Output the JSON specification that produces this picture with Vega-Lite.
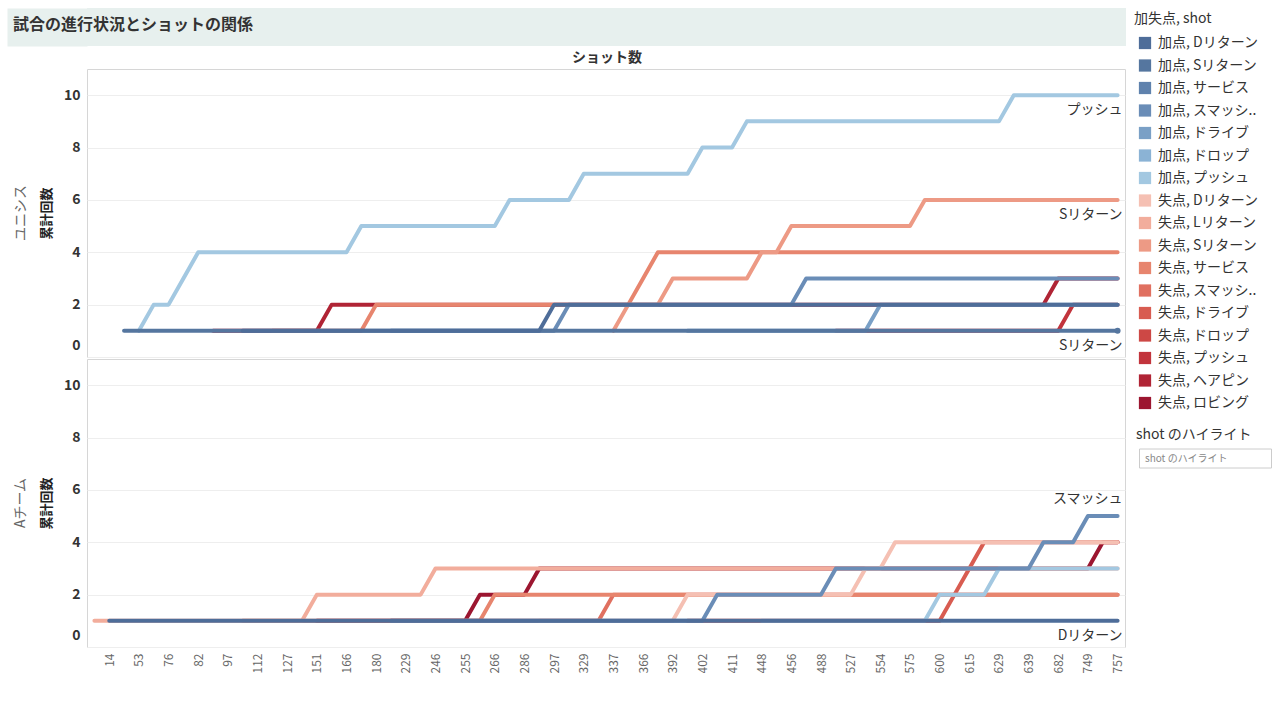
{
  "$schema": "https://vega.github.io/schema/vega-lite/v6.json",
  "padding": {"left": 13, "top": 8, "right": 0, "bottom": 0},
  "background": "white",
  "config": {
    "font": "Noto Sans CJK JP",
    "view": {"stroke": "#d6d6d6"}
  },
  "datasets": {
    "lines": [
      {"team":"ユニシス","key":"失点, ヘアピン","shot":"ヘアピン","n":90,"v":1},
      {"team":"ユニシス","key":"失点, ヘアピン","shot":"ヘアピン","n":151,"v":1},
      {"team":"ユニシス","key":"失点, ヘアピン","shot":"ヘアピン","n":159,"v":2},
      {"team":"ユニシス","key":"失点, ヘアピン","shot":"ヘアピン","n":661,"v":2},
      {"team":"ユニシス","key":"失点, ヘアピン","shot":"ヘアピン","n":682,"v":3},
      {"team":"ユニシス","key":"失点, ヘアピン","shot":"ヘアピン","n":757,"v":3},
      {"team":"ユニシス","key":"失点, プッシュ","shot":"プッシュ","n":508,"v":1},
      {"team":"ユニシス","key":"失点, プッシュ","shot":"プッシュ","n":682,"v":1},
      {"team":"ユニシス","key":"失点, プッシュ","shot":"プッシュ","n":716,"v":2},
      {"team":"ユニシス","key":"失点, プッシュ","shot":"プッシュ","n":757,"v":2},
      {"team":"ユニシス","key":"失点, サービス","shot":"サービス","n":120,"v":1},
      {"team":"ユニシス","key":"失点, サービス","shot":"サービス","n":173,"v":1},
      {"team":"ユニシス","key":"失点, サービス","shot":"サービス","n":180,"v":2},
      {"team":"ユニシス","key":"失点, サービス","shot":"サービス","n":352,"v":2},
      {"team":"ユニシス","key":"失点, サービス","shot":"サービス","n":366,"v":3},
      {"team":"ユニシス","key":"失点, サービス","shot":"サービス","n":379,"v":4},
      {"team":"ユニシス","key":"失点, サービス","shot":"サービス","n":757,"v":4},
      {"team":"ユニシス","key":"失点, Sリターン","shot":"Sリターン","n":337,"v":1},
      {"team":"ユニシス","key":"失点, Sリターン","shot":"Sリターン","n":352,"v":2},
      {"team":"ユニシス","key":"失点, Sリターン","shot":"Sリターン","n":379,"v":2},
      {"team":"ユニシス","key":"失点, Sリターン","shot":"Sリターン","n":392,"v":3},
      {"team":"ユニシス","key":"失点, Sリターン","shot":"Sリターン","n":430,"v":3},
      {"team":"ユニシス","key":"失点, Sリターン","shot":"Sリターン","n":448,"v":4},
      {"team":"ユニシス","key":"失点, Sリターン","shot":"Sリターン","n":452,"v":4},
      {"team":"ユニシス","key":"失点, Sリターン","shot":"Sリターン","n":456,"v":5},
      {"team":"ユニシス","key":"失点, Sリターン","shot":"Sリターン","n":575,"v":5},
      {"team":"ユニシス","key":"失点, Sリターン","shot":"Sリターン","n":588,"v":6},
      {"team":"ユニシス","key":"失点, Sリターン","shot":"Sリターン","n":757,"v":6},
      {"team":"ユニシス","key":"加点, プッシュ","shot":"プッシュ","n":53,"v":1},
      {"team":"ユニシス","key":"加点, プッシュ","shot":"プッシュ","n":65,"v":2},
      {"team":"ユニシス","key":"加点, プッシュ","shot":"プッシュ","n":76,"v":2},
      {"team":"ユニシス","key":"加点, プッシュ","shot":"プッシュ","n":79,"v":3},
      {"team":"ユニシス","key":"加点, プッシュ","shot":"プッシュ","n":82,"v":4},
      {"team":"ユニシス","key":"加点, プッシュ","shot":"プッシュ","n":166,"v":4},
      {"team":"ユニシス","key":"加点, プッシュ","shot":"プッシュ","n":173,"v":5},
      {"team":"ユニシス","key":"加点, プッシュ","shot":"プッシュ","n":266,"v":5},
      {"team":"ユニシス","key":"加点, プッシュ","shot":"プッシュ","n":276,"v":6},
      {"team":"ユニシス","key":"加点, プッシュ","shot":"プッシュ","n":313,"v":6},
      {"team":"ユニシス","key":"加点, プッシュ","shot":"プッシュ","n":329,"v":7},
      {"team":"ユニシス","key":"加点, プッシュ","shot":"プッシュ","n":397,"v":7},
      {"team":"ユニシス","key":"加点, プッシュ","shot":"プッシュ","n":402,"v":8},
      {"team":"ユニシス","key":"加点, プッシュ","shot":"プッシュ","n":411,"v":8},
      {"team":"ユニシス","key":"加点, プッシュ","shot":"プッシュ","n":430,"v":9},
      {"team":"ユニシス","key":"加点, プッシュ","shot":"プッシュ","n":629,"v":9},
      {"team":"ユニシス","key":"加点, プッシュ","shot":"プッシュ","n":634,"v":10},
      {"team":"ユニシス","key":"加点, プッシュ","shot":"プッシュ","n":757,"v":10},
      {"team":"ユニシス","key":"加点, ドライブ","shot":"ドライブ","n":397,"v":1},
      {"team":"ユニシス","key":"加点, ドライブ","shot":"ドライブ","n":541,"v":1},
      {"team":"ユニシス","key":"加点, ドライブ","shot":"ドライブ","n":554,"v":2},
      {"team":"ユニシス","key":"加点, ドライブ","shot":"ドライブ","n":757,"v":2},
      {"team":"ユニシス","key":"加点, スマッシュ","shot":"スマッシュ","n":205,"v":1},
      {"team":"ユニシス","key":"加点, スマッシュ","shot":"スマッシュ","n":297,"v":1},
      {"team":"ユニシス","key":"加点, スマッシュ","shot":"スマッシュ","n":313,"v":2},
      {"team":"ユニシス","key":"加点, スマッシュ","shot":"スマッシュ","n":456,"v":2},
      {"team":"ユニシス","key":"加点, スマッシュ","shot":"スマッシュ","n":472,"v":3},
      {"team":"ユニシス","key":"加点, スマッシュ","shot":"スマッシュ","n":757,"v":3},
      {"team":"ユニシス","key":"加点, Sリターン","shot":"Sリターン","n":35,"v":1},
      {"team":"ユニシス","key":"加点, Sリターン","shot":"Sリターン","n":757,"v":1},
      {"team":"ユニシス","key":"加点, Dリターン","shot":"Dリターン","n":105,"v":1},
      {"team":"ユニシス","key":"加点, Dリターン","shot":"Dリターン","n":292,"v":1},
      {"team":"ユニシス","key":"加点, Dリターン","shot":"Dリターン","n":297,"v":2},
      {"team":"ユニシス","key":"加点, Dリターン","shot":"Dリターン","n":757,"v":2},
      {"team":"Aチーム","key":"失点, ロビング","shot":"ロビング","n":151,"v":1},
      {"team":"Aチーム","key":"失点, ロビング","shot":"ロビング","n":255,"v":1},
      {"team":"Aチーム","key":"失点, ロビング","shot":"ロビング","n":261,"v":2},
      {"team":"Aチーム","key":"失点, ロビング","shot":"ロビング","n":286,"v":2},
      {"team":"Aチーム","key":"失点, ロビング","shot":"ロビング","n":292,"v":3},
      {"team":"Aチーム","key":"失点, ロビング","shot":"ロビング","n":749,"v":3},
      {"team":"Aチーム","key":"失点, ロビング","shot":"ロビング","n":753,"v":4},
      {"team":"Aチーム","key":"失点, ロビング","shot":"ロビング","n":757,"v":4},
      {"team":"Aチーム","key":"失点, ドライブ","shot":"ドライブ","n":397,"v":1},
      {"team":"Aチーム","key":"失点, ドライブ","shot":"ドライブ","n":600,"v":1},
      {"team":"Aチーム","key":"失点, ドライブ","shot":"ドライブ","n":608,"v":2},
      {"team":"Aチーム","key":"失点, ドライブ","shot":"ドライブ","n":615,"v":3},
      {"team":"Aチーム","key":"失点, ドライブ","shot":"ドライブ","n":622,"v":4},
      {"team":"Aチーム","key":"失点, ドライブ","shot":"ドライブ","n":757,"v":4},
      {"team":"Aチーム","key":"失点, スマッシュ","shot":"スマッシュ","n":205,"v":1},
      {"team":"Aチーム","key":"失点, スマッシュ","shot":"スマッシュ","n":333,"v":1},
      {"team":"Aチーム","key":"失点, スマッシュ","shot":"スマッシュ","n":337,"v":2},
      {"team":"Aチーム","key":"失点, スマッシュ","shot":"スマッシュ","n":757,"v":2},
      {"team":"Aチーム","key":"失点, サービス","shot":"サービス","n":105,"v":1},
      {"team":"Aチーム","key":"失点, サービス","shot":"サービス","n":261,"v":1},
      {"team":"Aチーム","key":"失点, サービス","shot":"サービス","n":266,"v":2},
      {"team":"Aチーム","key":"失点, サービス","shot":"サービス","n":757,"v":2},
      {"team":"Aチーム","key":"失点, Lリターン","shot":"Lリターン","n":1,"v":1},
      {"team":"Aチーム","key":"失点, Lリターン","shot":"Lリターン","n":140,"v":1},
      {"team":"Aチーム","key":"失点, Lリターン","shot":"Lリターン","n":151,"v":2},
      {"team":"Aチーム","key":"失点, Lリターン","shot":"Lリターン","n":238,"v":2},
      {"team":"Aチーム","key":"失点, Lリターン","shot":"Lリターン","n":246,"v":3},
      {"team":"Aチーム","key":"失点, Lリターン","shot":"Lリターン","n":757,"v":3},
      {"team":"Aチーム","key":"失点, Dリターン","shot":"Dリターン","n":292,"v":1},
      {"team":"Aチーム","key":"失点, Dリターン","shot":"Dリターン","n":392,"v":1},
      {"team":"Aチーム","key":"失点, Dリターン","shot":"Dリターン","n":397,"v":2},
      {"team":"Aチーム","key":"失点, Dリターン","shot":"Dリターン","n":527,"v":2},
      {"team":"Aチーム","key":"失点, Dリターン","shot":"Dリターン","n":541,"v":3},
      {"team":"Aチーム","key":"失点, Dリターン","shot":"Dリターン","n":554,"v":3},
      {"team":"Aチーム","key":"失点, Dリターン","shot":"Dリターン","n":565,"v":4},
      {"team":"Aチーム","key":"失点, Dリターン","shot":"Dリターン","n":757,"v":4},
      {"team":"Aチーム","key":"加点, プッシュ","shot":"プッシュ","n":448,"v":1},
      {"team":"Aチーム","key":"加点, プッシュ","shot":"プッシュ","n":588,"v":1},
      {"team":"Aチーム","key":"加点, プッシュ","shot":"プッシュ","n":600,"v":2},
      {"team":"Aチーム","key":"加点, プッシュ","shot":"プッシュ","n":622,"v":2},
      {"team":"Aチーム","key":"加点, プッシュ","shot":"プッシュ","n":629,"v":3},
      {"team":"Aチーム","key":"加点, プッシュ","shot":"プッシュ","n":757,"v":3},
      {"team":"Aチーム","key":"加点, スマッシュ","shot":"スマッシュ","n":205,"v":1},
      {"team":"Aチーム","key":"加点, スマッシュ","shot":"スマッシュ","n":402,"v":1},
      {"team":"Aチーム","key":"加点, スマッシュ","shot":"スマッシュ","n":407,"v":2},
      {"team":"Aチーム","key":"加点, スマッシュ","shot":"スマッシュ","n":488,"v":2},
      {"team":"Aチーム","key":"加点, スマッシュ","shot":"スマッシュ","n":508,"v":3},
      {"team":"Aチーム","key":"加点, スマッシュ","shot":"スマッシュ","n":639,"v":3},
      {"team":"Aチーム","key":"加点, スマッシュ","shot":"スマッシュ","n":661,"v":4},
      {"team":"Aチーム","key":"加点, スマッシュ","shot":"スマッシュ","n":716,"v":4},
      {"team":"Aチーム","key":"加点, スマッシュ","shot":"スマッシュ","n":749,"v":5},
      {"team":"Aチーム","key":"加点, スマッシュ","shot":"スマッシュ","n":757,"v":5},
      {"team":"Aチーム","key":"加点, Dリターン","shot":"Dリターン","n":14,"v":1},
      {"team":"Aチーム","key":"加点, Dリターン","shot":"Dリターン","n":757,"v":1}
    ]
  },
  "spacing": 4,
  "vconcat": [
    {
      "width": 1039,
      "height": 38,
      "view": {"fill": "#e7f0ee", "stroke": null},
      "title": {"text": "試合の進行状況とショットの関係", "anchor": "start", "frame": "group", "orient": "top", "offset": -24, "dx": -74, "dy": 17, "fontSize": 16, "fontWeight": "bold", "color": "#333333", "baseline": "bottom"},
      "data": {"values": [{"t": ""}]},
      "mark": {"type": "text"},
      "encoding": {
        "text": {"field": "t", "type": "nominal"},
        "y": {"field": "t", "type": "nominal", "axis": {"orient": "left", "offset": 40, "domainWidth": 80, "domainColor": "#e7f0ee", "domainCap": "butt", "labels": false, "ticks": false, "title": null, "grid": false}}
      }
    },
    {
      "data": {"name": "lines"},
      "title": {"text": "ショット数", "fontSize": 14, "fontWeight": "bold", "color": "#333333", "anchor": "middle", "frame": "bounds", "dx": 37, "offset": 4},
      "spacing": 0,
      "facet": {
        "row": {
          "field": "team", "type": "nominal", "sort": ["ユニシス", "Aチーム"], "title": null,
          "header": {"labelAngle": -90, "labelOrient": "left", "labelColor": "#666666", "labelFontSize": 14, "labelPadding": 5}
        }
      },
      "spec": {
        "width": 1038,
        "height": 288,
        "encoding": {
          "x": {
            "field": "n", "type": "ordinal",
            "scale": {"type": "point", "padding": 0.5, "domain": [1,14,35,53,65,76,79,82,90,97,105,112,120,127,140,151,159,166,173,180,205,229,238,246,251,255,261,266,276,286,292,297,313,329,333,337,352,366,379,392,397,402,407,411,430,448,452,456,472,488,508,527,541,554,565,575,588,600,608,615,622,629,634,639,661,682,716,749,753,757]},
            "axis": {"values": [14,53,76,82,97,112,127,151,166,180,229,246,255,266,286,297,329,337,366,392,402,411,448,456,488,527,554,575,600,615,629,639,682,749,757], "labelAngle": -90, "title": null, "grid": false, "ticks": false, "domain": false, "labelColor": "#666666", "labelFontSize": 12, "labelPadding": 5}
          },
          "y": {
            "field": "v", "type": "quantitative",
            "scale": {"domain": [0, 11], "nice": false},
            "axis": {"values": [0,2,4,6,8,10], "title": "累計回数", "titleFontSize": 13, "titleFontWeight": "bold", "titleColor": "#222222", "titlePadding": 10, "labelFontSize": 14, "labelFontWeight": "bold", "labelColor": "#333333", "labelPadding": 6, "ticks": false, "domain": false, "gridColor": "#eeeeee", "labelFlush": true, "labelFlushOffset": -5}
          }
        },
        "layer": [
          {
            "mark": {"type": "line", "strokeWidth": 4, "strokeJoin": "round", "strokeCap": "round"},
            "encoding": {
              "color": {
                "field": "key", "type": "nominal",
                "scale": {
                  "domain": ["加点, Dリターン","加点, Sリターン","加点, サービス","加点, スマッシュ","加点, ドライブ","加点, ドロップ","加点, プッシュ","失点, Dリターン","失点, Lリターン","失点, Sリターン","失点, サービス","失点, スマッシュ","失点, ドライブ","失点, ドロップ","失点, プッシュ","失点, ヘアピン","失点, ロビング"],
                  "range": ["#4e6d99","#55769f","#5f82ad","#6a8db7","#7aa0c6","#8bb3d5","#a3c8e1","#f5c0b3","#f2ad9c","#ed9a85","#e7856e","#e07060","#d85c51","#cd4845","#c2343c","#b02435","#9c1630"]
                },
                "legend": {
                  "title": "加失点, shot", "orient": "right", "offset": 4, "padding": 4,
                  "titleFontSize": 14, "titleFontWeight": "normal", "titleColor": "#333333", "titlePadding": 10,
                  "labelFontSize": 14, "labelColor": "#333333", "labelOffset": 6,
                  "symbolType": "square", "symbolSize": 150, "symbolStrokeWidth": 0, "symbolOffset": 4, "rowPadding": 8.5,
                  "labelExpr": "replace(datum.label, 'スマッシュ', 'スマッシ..')",
                  "encode": {"symbols": {"update": {"fill": {"scale": "color", "field": "value"}, "fillOpacity": {"value": 1}, "strokeWidth": {"value": 0}}}}
                }
              }
            }
          },
          {
            "transform": [{"filter": "false"}],
            "mark": {"type": "point"},
            "encoding": {
              "shape": {
                "field": "hl", "type": "nominal",
                "scale": {"domain": ["shot のハイライト"], "range": ["M-6.6,-0.95H6.6V0.95H-6.6Z"]},
                "legend": {
                  "title": "shot のハイライト", "offset": 2, "padding": 6,
                  "titleFontSize": 14, "titleFontWeight": "normal", "titleColor": "#333333", "titlePadding": 6,
                  "symbolSize": 400, "symbolOffset": 59, "symbolFillColor": "white", "symbolStrokeColor": "#cccccc", "symbolStrokeWidth": 1, "symbolOpacity": 1,
                  "labelOffset": -71, "labelFontSize": 10, "labelColor": "#888888"
                }
              }
            }
          },
          {
            "transform": [{"filter": "datum.n === 757 && datum.team === 'ユニシス' && datum.key === '加点, Sリターン'"}],
            "mark": {"type": "point", "filled": true, "size": 36, "opacity": 1},
            "encoding": {"color": {"field": "key", "type": "nominal"}}
          },
          {
            "transform": [{"filter": "datum.n === 757 && ((datum.team === 'ユニシス' && (datum.key === '加点, プッシュ' || datum.key === '失点, Sリターン' || datum.key === '加点, Sリターン')) || (datum.team === 'Aチーム' && datum.key === '加点, Dリターン'))"}],
            "mark": {"type": "text", "align": "right", "baseline": "middle", "dx": 5, "dy": 15, "fontSize": 14, "color": "#333333"},
            "encoding": {"text": {"field": "shot", "type": "nominal"}}
          },
          {
            "transform": [{"filter": "datum.n === 757 && datum.team === 'Aチーム' && datum.key === '加点, スマッシュ'"}],
            "mark": {"type": "text", "align": "right", "baseline": "middle", "dx": 5, "dy": -17, "fontSize": 14, "color": "#333333"},
            "encoding": {"text": {"field": "shot", "type": "nominal"}}
          }
        ]
      }
    }
  ]
}
